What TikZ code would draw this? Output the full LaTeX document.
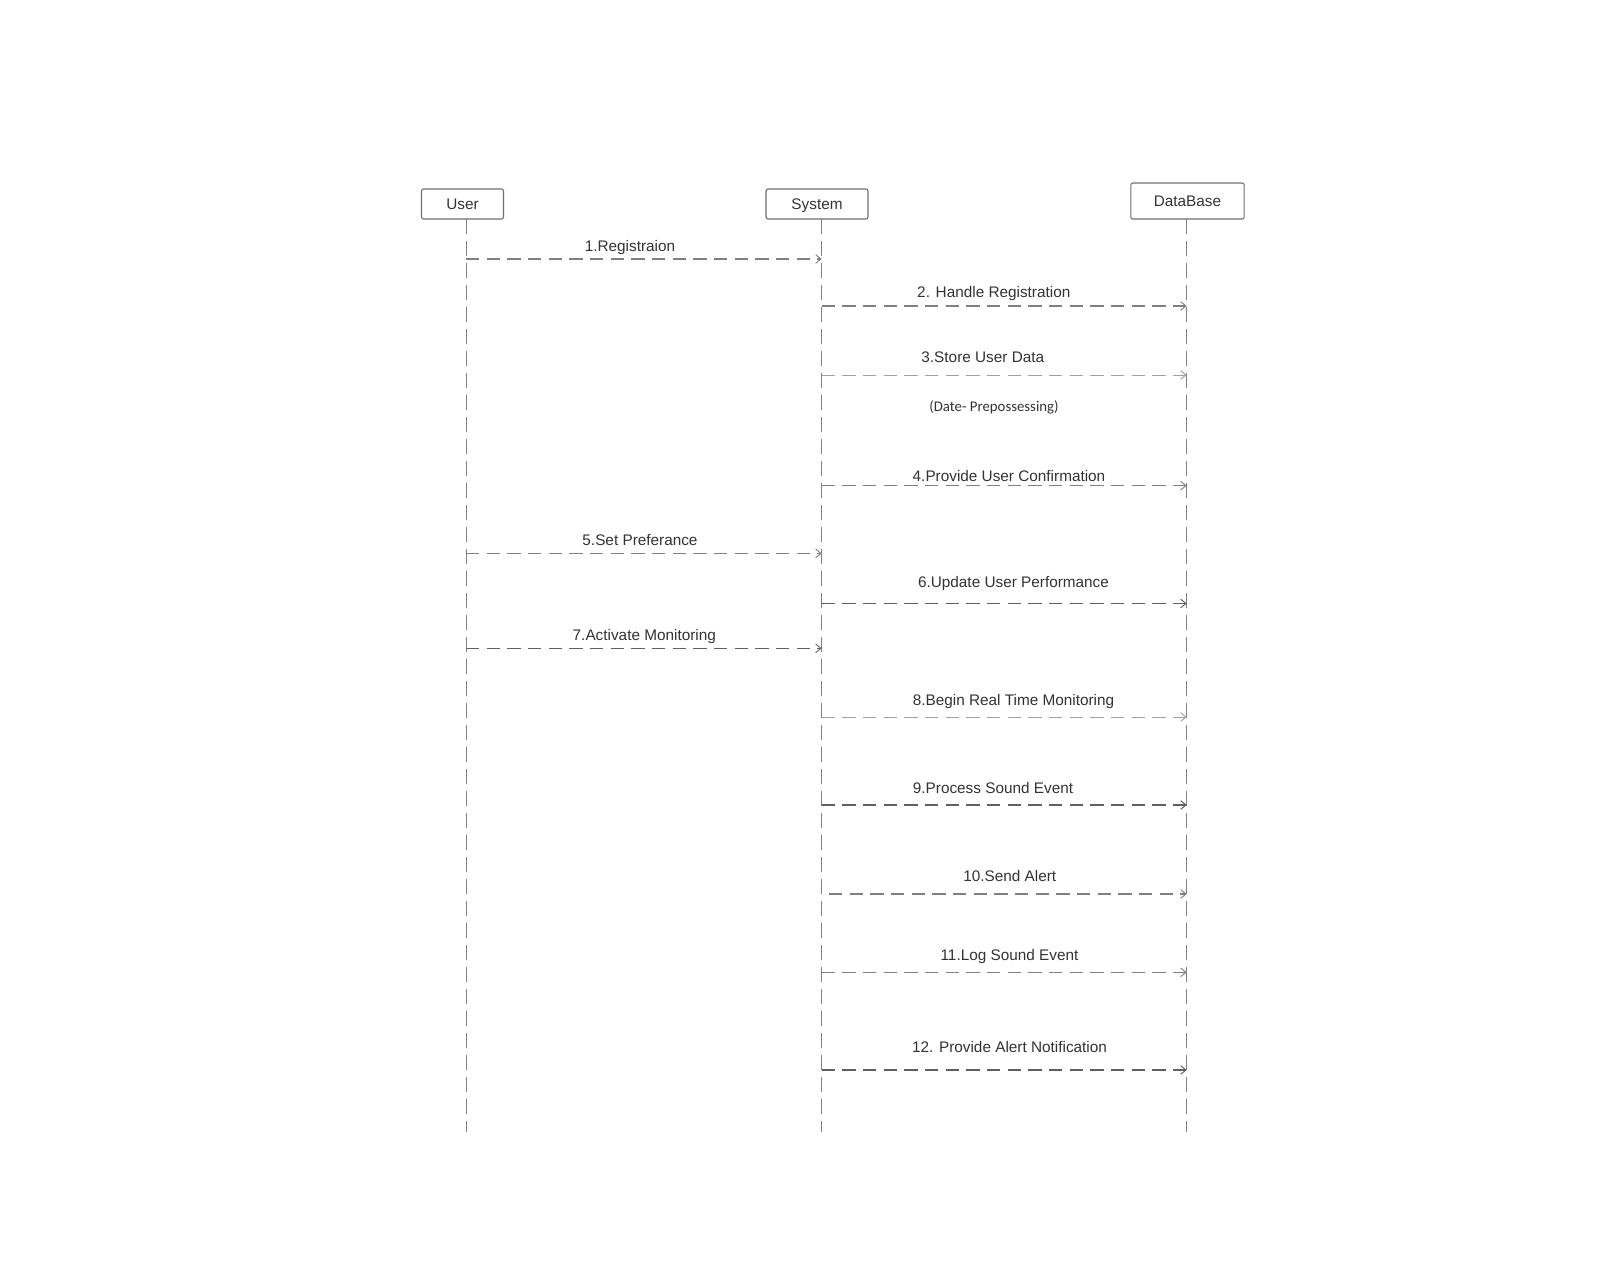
\documentclass[tikz,border=0pt]{standalone}
\usepackage{fontspec}
\setmainfont{Liberation Sans}
\newfontfamily\notefont{Carlito}
\usetikzlibrary{arrows.meta}
\definecolor{linegray}{HTML}{808080}
\definecolor{lightgray2}{HTML}{A0A0A0}
\definecolor{darkgray2}{HTML}{606060}
\definecolor{boxgray}{HTML}{707070}
\definecolor{txt}{HTML}{333333}
\begin{document}
\begin{tikzpicture}[x=0.75pt,y=-0.75pt,
  actor/.style={draw=boxgray, rounded corners=1.5pt, line width=0.8pt, text=txt,
    font=\fontsize{11.5}{13}\selectfont, inner sep=0pt, text depth=0pt},
  lifeline/.style={draw=linegray, line width=0.75pt, dash pattern=on 11pt off 5.5pt},
  msg/.style={draw=linegray, line width=0.8pt, dash pattern=on 10pt off 5.5pt,
    -{Straight Barb[length=4pt,width=6.5pt,line width=0.7pt]}},
  msglight/.style={msg, draw=lightgray2, line width=0.7pt},
  msgdark/.style={msg, draw=darkgray2, line width=1.05pt},
  lbl/.style={anchor=base, text=txt, inner sep=0pt, font=\fontsize{11.5}{13}\selectfont},
  note/.style={anchor=base, text=txt, inner sep=0pt, font=\notefont\fontsize{11.1}{12}\selectfont}]
\useasboundingbox (0,0) rectangle (1602,1262);
\fill[white] (0,0) rectangle (1602,1262);

% actors
\node[actor, minimum width=61.5pt, minimum height=22.5pt] (user) at (462.5,204) {User};
\node[actor, minimum width=76.5pt, minimum height=22.5pt] (system) at (817,204) {System};
\node[actor, minimum width=85pt, minimum height=27pt] (db) at (1187.5,201) {DataBase};

% lifeline coordinates
\coordinate (uT) at (466,219);   \coordinate (uB) at (466,1132);
\coordinate (sT) at (821.7,219); \coordinate (sB) at (821.7,1132);
\coordinate (dT) at (1186.7,219);\coordinate (dB) at (1186.7,1132);
\draw[lifeline] (uT) -- (uB);
\draw[lifeline] (sT) -- (sB);
\draw[lifeline] (dT) -- (dB);

% message end points
\coordinate (m1a) at (466,259);    \coordinate (m1b) at (821.7,259);
\coordinate (m2a) at (821.7,306);  \coordinate (m2b) at (1186.7,306);
\coordinate (m3a) at (821.7,375);  \coordinate (m3b) at (1186.7,375);
\coordinate (m4a) at (821.7,485.7);\coordinate (m4b) at (1186.7,485.7);
\coordinate (m5a) at (466,553.3);  \coordinate (m5b) at (821.7,553.3);
\coordinate (m6a) at (821.7,603.5);\coordinate (m6b) at (1186.7,603.5);
\coordinate (m7a) at (466,648.3);  \coordinate (m7b) at (821.7,648.3);
\coordinate (m8a) at (821.7,717);  \coordinate (m8b) at (1186.7,717);
\coordinate (m9a) at (821.7,805);  \coordinate (m9b) at (1186.7,805);
\coordinate (m10a) at (829,894);   \coordinate (m10b) at (1186.7,894);
\coordinate (m11a) at (821.7,972.3);\coordinate (m11b) at (1186.7,972.3);
\coordinate (m12a) at (821.7,1070);\coordinate (m12b) at (1186.7,1070);

\draw[msg] (m1a) -- (m1b);
\draw[msg] (m2a) -- (m2b);
\draw[msglight] (m3a) -- (m3b);
\draw[msg] (m4a) -- (m4b);
\draw[msg] (m5a) -- (m5b);
\draw[msgdark] (m6a) -- (m6b);
\draw[msgdark] (m7a) -- (m7b);
\draw[msglight] (m8a) -- (m8b);
\draw[msgdark] (m9a) -- (m9b);
\draw[msg] (m10a) -- (m10b);
\draw[msg] (m11a) -- (m11b);
\draw[msgdark] (m12a) -- (m12b);

% labels
\node[lbl] (l1) at (630,252) {1.Registraion};
\node[lbl] (l2) at (993.8,297.7) {2. Handle Registration};
\node[lbl] (l3) at (982.8,362.7) {3.Store User Data};
\node[note] (n1) at (994,411.5) {(Date- Prepossessing)};
\node[lbl] (l4) at (1009,481) {4.Provide User Confirmation};
\node[lbl] (l5) at (640,545.7) {5.Set Preferance};
\node[lbl] (l6) at (1013.5,587) {6.Update User Performance};
\node[lbl] (l7) at (644.3,640.7) {7.Activate Monitoring};
\node[lbl] (l8) at (1013.5,705.5) {8.Begin Real Time Monitoring};
\node[lbl] (l9) at (993,793) {9.Process Sound Event};
\node[lbl] (l10) at (1009.7,881.7) {10.Send Alert};
\node[lbl] (l11) at (1009.5,960) {11.Log Sound Event};
\node[lbl] (l12) at (1009.5,1052.5) {12. Provide Alert Notification};
\end{tikzpicture}
\end{document}
